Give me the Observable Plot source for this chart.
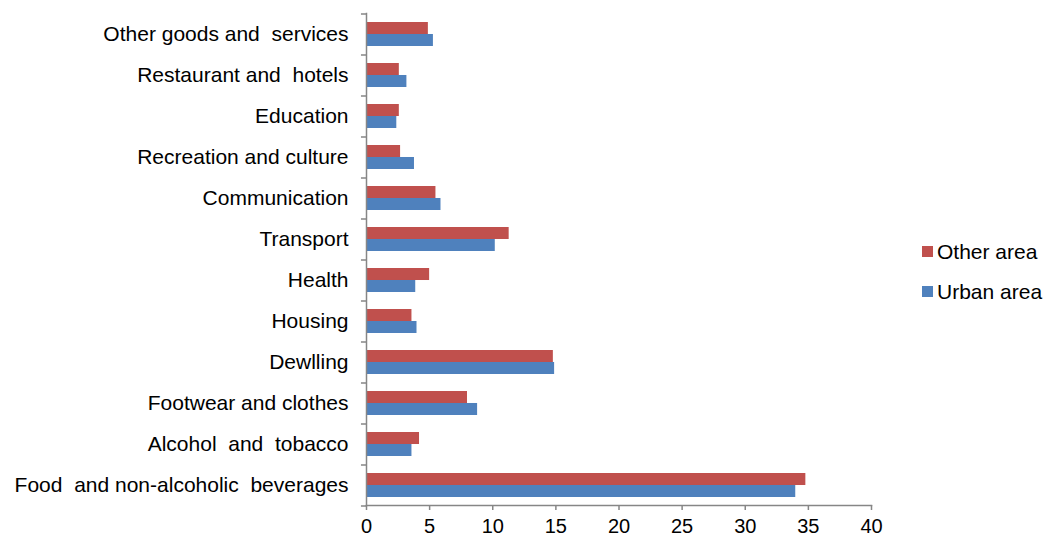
<!DOCTYPE html>
<html>
<head>
<meta charset="utf-8">
<script src="https://cdn.jsdelivr.net/npm/d3@7"></script>
<script src="https://cdn.jsdelivr.net/npm/@observablehq/plot@0.6"></script>
<style>
  html, body { margin: 0; padding: 0; background: #fff; }
  #wrap { position: relative; width: 1048px; height: 539px; font-family: "Liberation Sans", Arial, sans-serif; }
  #wrap svg text { white-space: pre; }
  .legend { position: absolute; left: 922px; font-size: 21px; color: #000; line-height: 24px; display: flex; align-items: center; }
  .legend .sw { width: 11px; height: 11px; margin-right: 4px; display: inline-block; }
</style>
</head>
<body>
<div id="wrap"></div>
<script>
const categories = [
  "Food  and non-alcoholic  beverages",
  "Alcohol  and  tobacco",
  "Footwear and clothes",
  "Dewlling",
  "Housing",
  "Health",
  "Transport",
  "Communication",
  "Recreation and culture",
  "Education",
  "Restaurant and  hotels",
  "Other goods and  services"
];
const otherArea = [34.8, 4.2, 8.0, 14.8, 3.6, 5.0, 11.3, 5.5, 2.7, 2.6, 2.6, 4.9];
const urbanArea = [34.0, 3.6, 8.8, 14.9, 4.0, 3.9, 10.2, 5.9, 3.8, 2.4, 3.2, 5.3];
const seriesNames = ["Other area", "Urban area"];
const seriesColors = ["#C0504D", "#4F81BD"];
const xTicks = [0, 5, 10, 15, 20, 25, 30, 35, 40];

const otherData = categories.map((c, i) => ({category: c, value: otherArea[i]}));
const urbanData = categories.map((c, i) => ({category: c, value: urbanArea[i]}));

const W = 1048, H = 539, mT = 13, mB = 34, mL = 366, mR = 177;
const step = (H - mT - mB) / categories.length;
const pInner = 0.415;
const bw = step * (1 - pInner);
const axisColor = "#868686";

const chart = Plot.plot({
  width: W,
  height: H,
  marginTop: mT,
  marginBottom: mB,
  marginLeft: mL,
  marginRight: mR,
  style: {fontFamily: "Liberation Sans, Arial, sans-serif", fontSize: "21px", color: "#000", background: "#fff"},
  x: {domain: [0, 40], ticks: xTicks, label: null},
  y: {domain: categories.slice().reverse(), paddingInner: pInner, paddingOuter: pInner / 2, label: null},
  marks: [
    Plot.barX(otherData, {x: "value", y: "category", fill: seriesColors[0], insetBottom: bw / 2}),
    Plot.barX(urbanData, {x: "value", y: "category", fill: seriesColors[1], insetTop: bw / 2}),
    Plot.frame({anchor: "left", stroke: axisColor, strokeWidth: 1.5}),
    Plot.frame({anchor: "bottom", stroke: axisColor, strokeWidth: 1.5}),
    Plot.ruleY(categories, {y: d => d, x1: -0.4, x2: 0, dy: -step / 2, stroke: axisColor, strokeWidth: 1.5}),
    Plot.ruleY([categories[0]], {y: d => d, x1: -0.4, x2: 0, dy: step / 2, stroke: axisColor, strokeWidth: 1.5}),
    Plot.axisX({ticks: xTicks, tickSize: 5, tickPadding: 8, stroke: axisColor, strokeWidth: 1.5, label: null, fill: "#000", fontSize: 20}),
    Plot.axisY({tickSize: 0, tickPadding: 18, label: null, fill: "#000", fontSize: 21})
  ]
});

const wrap = document.getElementById("wrap");
wrap.appendChild(chart);
const legendTops = [239.5, 279.5];
seriesNames.forEach((name, i) => {
  const d = document.createElement("div");
  d.className = "legend";
  d.style.top = legendTops[i] + "px";
  d.innerHTML = `<span class="sw" style="background:${seriesColors[i]}"></span><span>${name}</span>`;
  wrap.appendChild(d);
});
</script>
</body>
</html>
